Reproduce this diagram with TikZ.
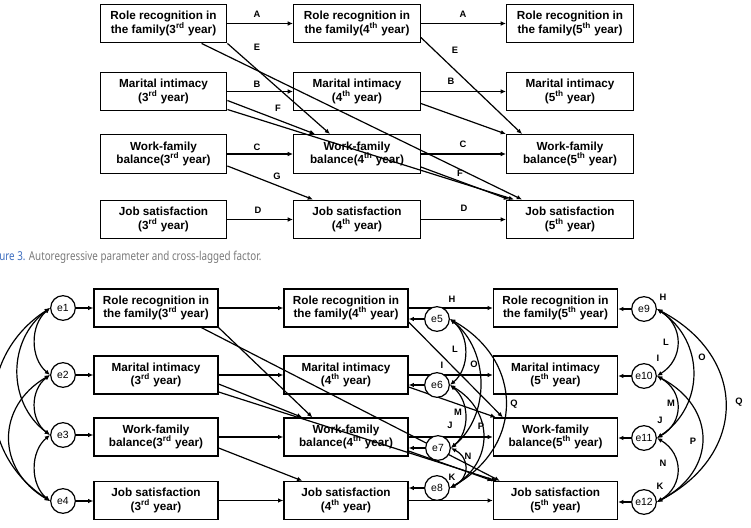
\documentclass[tikz,border=0pt]{standalone}
\usepackage{fontspec}
\setmainfont{Liberation Sans}
\newfontfamily\capfont{Noto Sans}
\usetikzlibrary{arrows.meta,calc}
\definecolor{capblue}{HTML}{3F6FC0}
\definecolor{capgray}{HTML}{7A7A7A}
\begin{document}
\begin{tikzpicture}[x=0.75pt,y=-0.75pt,
  box/.style={draw,line width=0.9pt,minimum width=95pt,minimum height=29pt,inner sep=0pt,align=center,font=\bfseries\fontsize{8.8}{10.4}\selectfont},
  bbox/.style={box,minimum width=93pt,minimum height=28.5pt},
  arr/.style={-{Latex[length=4pt,width=3.4pt]},line width=0.9pt},
  cov/.style={{Latex[length=4pt,width=3.4pt]}-{Latex[length=4pt,width=3.4pt]},line width=0.9pt},
  err/.style={draw,circle,line width=0.9pt,minimum size=18.5pt,inner sep=0pt,font=\fontsize{7.8}{8}\selectfont},
  lab/.style={font=\bfseries\fontsize{7}{7}\selectfont,inner sep=0pt}]
\useasboundingbox (0,0) rectangle (751,528);
\clip (0,0) rectangle (751,528);
% ---------- top diagram ----------
\node[box] (t11) at (163.5,23.5) {Role recognition in\\the family(3\textsuperscript{rd} year)};
\node[box] (t12) at (357,23.5) {Role recognition in\\the family(4\textsuperscript{th} year)};
\node[box] (t13) at (570,23.5) {Role recognition in\\the family(5\textsuperscript{th} year)};
\node[box] (t21) at (163.5,91.5) {Marital intimacy\\(3\textsuperscript{rd} year)};
\node[box] (t22) at (357,91.5) {Marital intimacy\\(4\textsuperscript{th} year)};
\node[box] (t23) at (570,91.5) {Marital intimacy\\(5\textsuperscript{th} year)};
\node[box] (t31) at (163.5,154) {Work-family\\balance(3\textsuperscript{rd} year)};
\node[box] (t32) at (357,154) {Work-family\\balance(4\textsuperscript{th} year)};
\node[box] (t33) at (570,154) {Work-family\\balance(5\textsuperscript{th} year)};
\node[box] (t41) at (163.5,219.5) {Job satisfaction\\(3\textsuperscript{rd} year)};
\node[box] (t42) at (357,219.5) {Job satisfaction\\(4\textsuperscript{th} year)};
\node[box] (t43) at (570,219.5) {Job satisfaction\\(5\textsuperscript{th} year)};
\foreach \r in {1,2,3,4}{
  \draw[arr] (t\r1) -- (t\r2);
  \draw[arr] (t\r2) -- (t\r3);
}
\draw[arr] (t11.south east) -- ($(t32.north west)+(37,0)$);
\draw[arr] ($(t11.south west)+(102,0)$) -- ($(t43.north west)+(16,0)$);
\draw[arr] ($(t21.east)+(0,9)$) -- ($(t32.north west)+(22,0)$);
\draw[arr] ($(t21.east)+(0,18)$) -- ($(t43.north west)+(8,0)$);
\draw[arr] ($(t31.east)+(0,12)$) -- ($(t42.north west)+(20,0)$);
\draw[arr] ($(t12.east)+(0,14)$) -- ($(t33.north west)+(16,0)$);
\draw[arr] ($(t22.east)+(0,12)$) -- (t33.north west);
\draw[arr] ($(t32.east)+(0,13)$) -- ($(t43.north west)+(3,0)$);
\node[lab] (la1) at (257,14) {A};
\node[lab] (la2) at (463,14) {A};
\node[lab] (lb1) at (257,84) {B};
\node[lab] (lb2) at (451,81) {B};
\node[lab] (lc1) at (257,147) {C};
\node[lab] (lc2) at (463,144) {C};
\node[lab] (ld1) at (258,210) {D};
\node[lab] (ld2) at (464,208) {D};
\node[lab] (le1) at (257,47) {E};
\node[lab] (le2) at (455,50) {E};
\node[lab] (lf1) at (278,108) {F};
\node[lab] (lf2) at (460,173) {F};
\node[lab] (lg1) at (277,176) {G};
% ---------- caption ----------
\node[anchor=west,inner sep=0pt] (cap) at (-1,257) {\capfont\fontsize{9.2}{10}\selectfont\scalebox{0.8}[1]{\textcolor{capblue}{ure 3.} \textcolor{capgray}{Autoregressive parameter and cross-lagged factor.}}};
% ---------- bottom diagram ----------
\node[bbox] (b11) at (156,308) {Role recognition in\\the family(3\textsuperscript{rd} year)};
\node[bbox] (b12) at (346,308) {Role recognition in\\the family(4\textsuperscript{th} year)};
\node[bbox] (b13) at (555.5,308) {Role recognition in\\the family(5\textsuperscript{th} year)};
\node[bbox] (b21) at (156,375) {Marital intimacy\\(3\textsuperscript{rd} year)};
\node[bbox] (b22) at (346,375) {Marital intimacy\\(4\textsuperscript{th} year)};
\node[bbox] (b23) at (555.5,375) {Marital intimacy\\(5\textsuperscript{th} year)};
\node[bbox] (b31) at (156,437) {Work-family\\balance(3\textsuperscript{rd} year)};
\node[bbox] (b32) at (346,437) {Work-family\\balance(4\textsuperscript{th} year)};
\node[bbox] (b33) at (555.5,437) {Work-family\\balance(5\textsuperscript{th} year)};
\node[bbox] (b41) at (156,500.5) {Job satisfaction\\(3\textsuperscript{rd} year)};
\node[bbox] (b42) at (346,500.5) {Job satisfaction\\(4\textsuperscript{th} year)};
\node[bbox] (b43) at (555.5,500.5) {Job satisfaction\\(5\textsuperscript{th} year)};
\foreach \r in {1,2,3,4}{
  \draw[arr] (b\r1) -- (b\r2);
  \draw[arr] (b\r2) -- (b\r3);
}
\draw[arr] (b11.south east) -- ($(b32.north west)+(29,0)$);
\draw[arr] ($(b11.south west)+(108,0)$) -- ($(b43.north west)+(7,0)$);
\draw[arr] ($(b21.east)+(0,9)$) -- ($(b32.north west)+(19,0)$);
\draw[arr] ($(b21.east)+(0,17)$) -- ($(b43.north west)+(4,0)$);
\draw[arr] ($(b31.east)+(0,11)$) -- ($(b42.north west)+(19,0)$);
\draw[arr] ($(b12.east)+(0,14)$) -- ($(b33.north west)+(10,0)$);
\draw[arr] ($(b22.east)+(0,12)$) -- ($(b33.north west)+(3,0)$);
\draw[arr] ($(b32.east)+(0,14)$) -- (b43.north west);
% error terms
\node[err] (e1) at (63,308) {e1};
\node[err] (e2) at (63,375) {e2};
\node[err] (e3) at (63,435) {e3};
\node[err] (e4) at (63,501) {e4};
\node[err,fill=white] (e5) at (437,319) {e5};
\node[err,fill=white] (e6) at (437,385) {e6};
\node[err,fill=white] (e7) at (438,448) {e7};
\node[err,fill=white] (e8) at (437,488) {e8};
\node[err] (e9) at (644,309) {e9};
\node[err] (e10) at (644,376) {e10};
\node[err] (e11) at (644,438) {e11};
\node[err] (e12) at (644,502) {e12};
\foreach \i/\b in {1/b11,2/b21,3/b31,4/b41}{
  \draw[arr] (e\i.east) -- (e\i.east -| \b.west);
}
\foreach \i/\b in {5/b12,6/b22,7/b32,8/b42,9/b13,10/b23,11/b33,12/b43}{
  \draw[arr] (e\i.west) -- (e\i.west -| \b.east);
}
% left covariances
\draw[cov] (e1.west) .. controls (30,325) and (30,358) .. (e2.west);
\draw[cov] (e1.west) .. controls (7,340) and (7,403) .. (e3.west);
\draw[cov] (e1.west) .. controls (-24,356) and (-24,453) .. (e4.west);
\draw[cov] (e2.west) .. controls (30,390) and (30,420) .. (e3.west);
\draw[cov] (e2.west) .. controls (-4,406.5) and (-4,469.5) .. (e4.west);
\draw[cov] (e3.west) .. controls (30,451.5) and (30,484.5) .. (e4.west);
% middle covariances
\draw[cov] (e5.east) .. controls (470,335.5) and (470,368.5) .. (e6.east);
\draw[cov] (e5.east) .. controls (490,351) and (490,416) .. (e7.east);
\draw[cov] (e5.east) .. controls (524,361) and (524,446) .. (e8.east);
\draw[cov] (e6.east) .. controls (470,401) and (470,432) .. (e7.east);
\draw[cov] (e6.east) .. controls (494,411) and (494,462) .. (e8.east);
\draw[cov] (e7.east) .. controls (470,458) and (470,478) .. (e8.east);
% right covariances
\draw[cov] (e9.east) .. controls (684,326) and (684,359) .. (e10.east);
\draw[cov] (e9.east) .. controls (705,341) and (705,406) .. (e11.east);
\draw[cov] (e9.east) .. controls (748,357) and (748,454) .. (e12.east);
\draw[cov] (e10.east) .. controls (684,391.5) and (684,422.5) .. (e11.east);
\draw[cov] (e10.east) .. controls (717,407.5) and (717,470.5) .. (e12.east);
\draw[cov] (e11.east) .. controls (684,454) and (684,486) .. (e12.east);
% labels middle
\node[lab] (mh) at (452,299) {H};
\node[lab] (mi) at (442,365) {I};
\node[lab] (mj) at (450,425) {J};
\node[lab] (mk) at (452,477) {K};
\node[lab] (ml) at (455,349) {L};
\node[lab] (mo) at (474,364) {O};
\node[lab] (mm) at (458,412) {M};
\node[lab] (mp) at (481,426) {P};
\node[lab] (mn) at (468,456) {N};
\node[lab] (mq) at (514,404) {Q};
% labels right
\node[lab] (rh) at (663,297) {H};
\node[lab] (rl) at (666,342) {L};
\node[lab] (ri) at (658,358) {I};
\node[lab] (ro) at (702,357) {O};
\node[lab] (rm) at (671,403) {M};
\node[lab] (rj) at (660,420) {J};
\node[lab] (rp) at (693,441) {P};
\node[lab] (rn) at (663,463) {N};
\node[lab] (rk) at (660,486) {K};
\node[lab] (rq) at (739,402) {Q};
\end{tikzpicture}
\end{document}
